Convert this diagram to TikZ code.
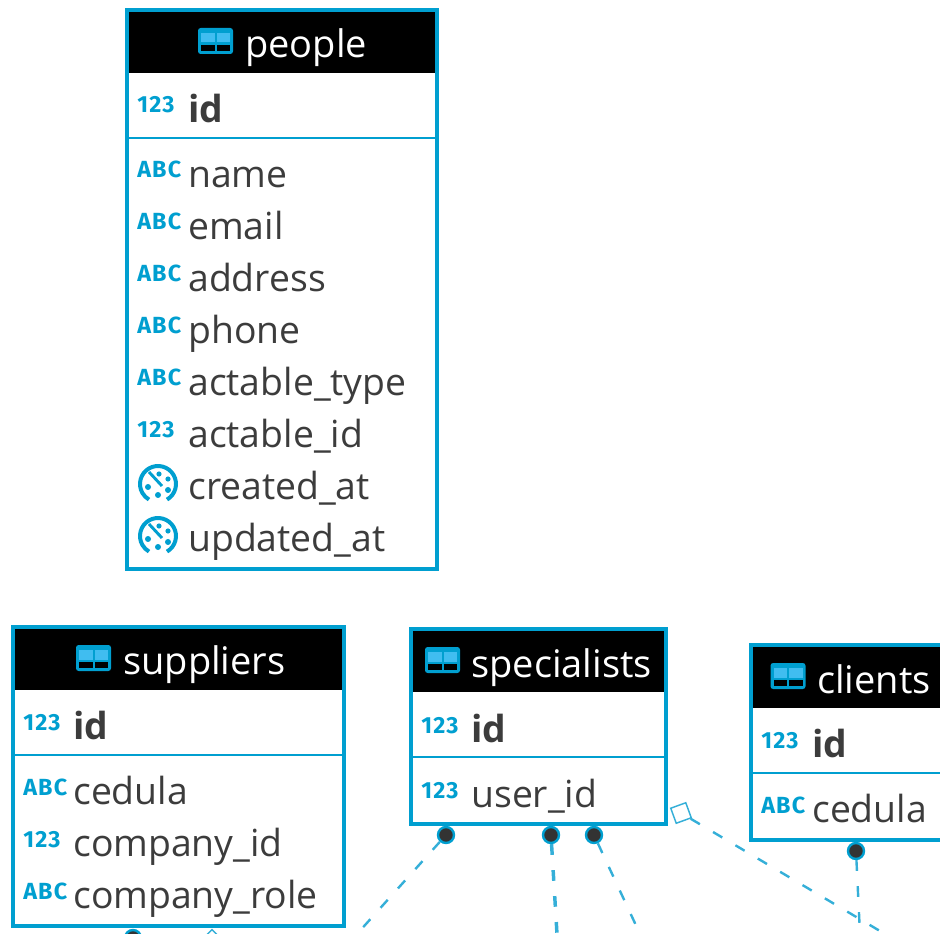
\documentclass[tikz,border=0pt]{standalone}
\usepackage{fontspec}
\setmainfont{Open Sans}
\newfontfamily\typefont[LetterSpace=5]{Fira Sans}
\usetikzlibrary{fit,positioning}
\definecolor{tblblue}{HTML}{009FD0}
\definecolor{tbllight}{HTML}{40BDF0}
\definecolor{tbltext}{HTML}{3C3C3C}
\definecolor{dotgray}{HTML}{333333}
\definecolor{relblue}{HTML}{35AFD8}

\begin{document}
\begin{tikzpicture}[
    x=0.75pt, y=-0.75pt,
    tbl-frame/.style={draw=tblblue, line width=3pt, fill=white, inner sep=0pt, rectangle},
    tbl-head/.style={fill=black, inner sep=0pt, rectangle},
    tbl-title/.style={anchor=base west, inner sep=0pt, yshift=-0.8pt, text=white, font=\fontsize{28.5}{29}\selectfont},
    fld-name/.style={anchor=base west, inner sep=0pt, yshift=-1pt, text=tbltext, font=\fontsize{28}{29}\selectfont},
    fld-key/.style={fld-name, font=\fontsize{28}{29}\selectfont\bfseries},
    fld-type/.style={anchor=base west, inner sep=0pt, text=tblblue, font=\typefont\fontsize{17.5}{18}\selectfont\bfseries},
    tbl-rule/.style={draw=tblblue, line width=1.5pt},
    rel/.style={draw=relblue, line width=1.8pt, dash pattern=on 8pt off 11.5pt},
    dot-end/.style={circle, fill=dotgray, draw=tblblue, line width=1.8pt, minimum size=12pt, inner sep=0pt},
    open-end/.style={rectangle, draw=relblue, fill=white, line width=1.1pt, minimum size=12pt, inner sep=0pt},
    table icon/.pic={
      \fill[tblblue, rounded corners=2pt] (-17.5,-13) rectangle (17.5,13);
      \fill[tbllight] (-14.5,-8) rectangle (-1,1.5);
      \fill[tbllight] (1,-8) rectangle (14.5,1.5);
      \fill[black] (-14.5,4) rectangle (-1,10);
      \fill[black] (1,4) rectangle (14.5,10);
    },
    clock icon/.pic={
      \draw[tblblue, line width=3pt] (60:18) arc[start angle=60, end angle=-240, radius=18];
      \draw[tblblue, line width=2.2pt] (-9,-12) -- (4,2);
      \fill[tblblue] (-10,3) circle (3) (0,11) circle (3) (10,-5) circle (2.6) (10,6) circle (3) (1,-10) circle (2.6);
    }
  ]
\useasboundingbox (0,0) rectangle (940,934);
\clip (0,0) rectangle (940,934);

% people table
\node[tbl-frame, fit={(127,10) (437,569)}] (people) {};
\node[tbl-head, fit={(129,12) (435,73)}] (people-head) {};
\draw[tbl-rule] (129,138) -- (435,138);
\pic at (215.5,41) {table icon};
\node[tbl-title] (people-title) at (245,56) {people};
\node[fld-type] (people-t0) at (137,113) {123};
\node[fld-key] (people-id) at (188,121) {id};
\foreach \n/\y/\kind/\txt in {1/186/ABC/name, 2/238/ABC/email, 3/290/ABC/address, 4/342/ABC/phone,
    5/394/ABC/actable\_type, 6/446/123/actable\_id} {
  \node[fld-type] (people-t\n) at (137,\y-8) {\kind};
  \node[fld-name] (people-f\n) at (188,\y) {\txt};
}
\foreach \n/\y/\txt in {7/498/created\_at, 8/550/updated\_at} {
  \pic at (158,\y-14) {clock icon};
  \node[fld-name] (people-f\n) at (188,\y) {\txt};
}

% suppliers table
\node[tbl-frame, fit={(13,627) (344,926)}] (suppliers) {};
\node[tbl-head, fit={(15,629) (342,690)}] (suppliers-head) {};
\draw[tbl-rule] (15,755) -- (342,755);
\pic at (93.5,658) {table icon};
\node[tbl-title] (suppliers-title) at (123,673) {suppliers};
\node[fld-type] (suppliers-t0) at (23,730) {123};
\node[fld-key] (suppliers-id) at (73,738) {id};
\foreach \n/\y/\kind/\txt in {1/803/ABC/cedula, 2/855/123/company\_id, 3/907/ABC/company\_role} {
  \node[fld-type] (suppliers-t\n) at (23,\y-8) {\kind};
  \node[fld-name] (suppliers-f\n) at (73,\y) {\txt};
}

% specialists table
\node[tbl-frame, fit={(411,629) (666,824)}] (specialists) {};
\node[tbl-head, fit={(413,631) (664,692)}] (specialists-head) {};
\draw[tbl-rule] (413,757) -- (664,757);
\pic at (442.5,660) {table icon};
\node[tbl-title] (specialists-title) at (471,676) {specialists};
\node[fld-type] (specialists-t0) at (421,733) {123};
\node[fld-key] (specialists-id) at (471,741) {id};
\node[fld-type] (specialists-t1) at (421,798) {123};
\node[fld-name] (specialists-f1) at (471,806) {user\_id};

% clients table
\node[tbl-frame, fit={(751,645) (960,840)}] (clients) {};
\node[tbl-head, fit={(753,647) (958,708)}] (clients-head) {};
\draw[tbl-rule] (753,773) -- (958,773);
\pic at (788,676) {table icon};
\node[tbl-title] (clients-title) at (817,692) {clients};
\node[fld-type] (clients-t0) at (761,748) {123};
\node[fld-key] (clients-id) at (812,756) {id};
\node[fld-type] (clients-t1) at (761,813) {ABC};
\node[fld-name] (clients-f1) at (812,821) {cedula};

% free ends below the cut
\coordinate (end-a) at (357,934);
\coordinate (end-b) at (557,934);
\coordinate (end-c) at (640,934);
\coordinate (end-d) at (885,934);
\coordinate (end-e) at (860,934);

% ends of the relations
\node[dot-end] (spec-a) at (446,835) {};
\node[dot-end] (spec-b) at (551,835) {};
\node[dot-end] (spec-c) at (594,835) {};
\node[dot-end] (clients-a) at (856,851) {};
\node[open-end, rotate=20] (spec-d) at (681,813) {};
\node[dot-end] (supp-a) at (133,938) {};
\node[open-end, rotate=45] (supp-b) at (212,941) {};

\draw[rel] (spec-a) -- (end-a);
\draw[rel, line width=2.6pt] (spec-b) -- (end-b);
\draw[rel] (spec-c) -- (end-c);
\draw[rel] (spec-d) -- (end-d);
\draw[rel] (clients-a) -- (end-e);

\end{tikzpicture}
\end{document}
